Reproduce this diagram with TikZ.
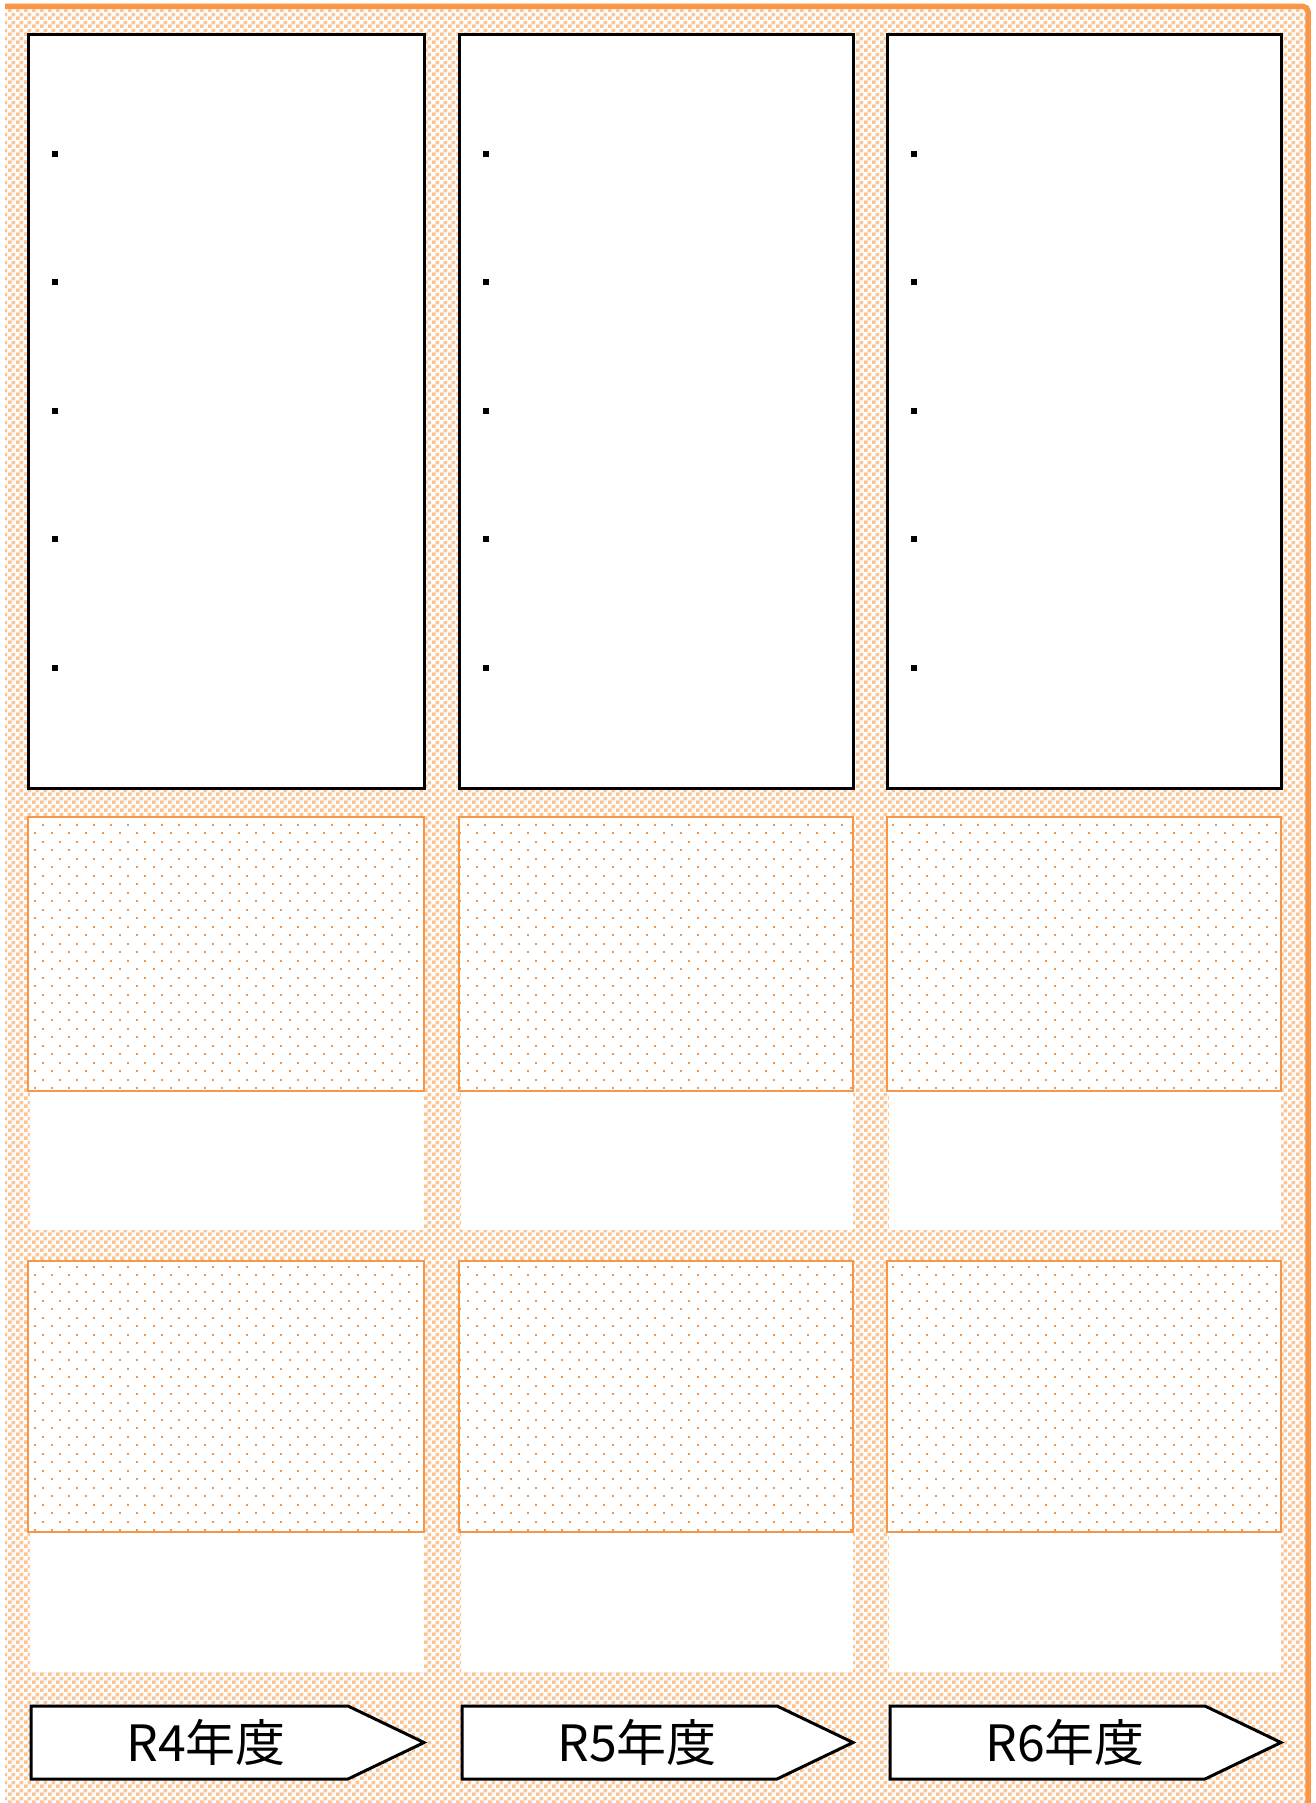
\documentclass[tikz,border=0pt]{standalone}
\usepackage{fontspec}
\setmainfont{Noto Sans CJK JP}
\usetikzlibrary{patterns.meta}

\definecolor{accorange}{RGB}{247,150,70}
\definecolor{chkorange}{RGB}{251,196,146}

\tikzdeclarepattern{
  name=chk, type=uncolored,
  bounding box={(0pt,0pt) and (3.2pt,3.2pt)},
  tile size={(3.2pt,3.2pt)},
  code={\fill (0pt,0pt) rectangle (1.6pt,1.6pt); \fill (1.6pt,1.6pt) rectangle (3.2pt,3.2pt);}
}
\tikzdeclarepattern{
  name=dotgrid, type=uncolored,
  bounding box={(0pt,0pt) and (6.8pt,6.8pt)},
  tile size={(6.8pt,6.8pt)},
  code={\fill (0pt,0pt) rectangle (0.8pt,0.8pt); \fill (3.4pt,3.4pt) rectangle (4.2pt,4.2pt);}
}

\begin{document}
\begin{tikzpicture}[
  x=0.4pt,y=-0.4pt,
  planbox/.style={draw=black,line width=1.2pt,fill=white},
  dotbox/.style={draw=accorange,line width=0.9pt,pattern=dotgrid,pattern color=accorange},
  blankbox/.style={fill=white},
  yeararrow/.style={draw=black,line width=1.2pt,fill=white,line join=miter},
  yearlabel/.style={font=\fontsize{20}{24}\selectfont,inner sep=0pt}
]
  \useasboundingbox (0,0) rectangle (1315,1803);

  % background
  \fill[white] (5,9) rectangle (1308,1803);
  \fill[pattern=chk,pattern color=chkorange] (5,9) rectangle (1308,1803);
  \draw[accorange,line width=2.2pt,rounded corners=2pt] (5,6.5) -- (1308,6.5) -- (1308,1803);

  % one column per year
  \foreach \l/\r/\yr in {28/424/4, 459/853/5, 887/1281/6}{
    \draw[planbox] (\l,35) rectangle (\r,788);
    \foreach \k in {0,...,4}
      \fill (\l+24,151+128.5*\k) rectangle ++(6,6);

    \fill[blankbox] (\l+2,817) rectangle (\r,1230);
    \fill[blankbox] (\l+2,1261) rectangle (\r,1672);
    \fill[white] (\l,817) rectangle (\r,1091);
    \draw[dotbox] (\l,817) rectangle (\r,1091);
    \fill[white] (\l,1261) rectangle (\r,1532);
    \draw[dotbox] (\l,1261) rectangle (\r,1532);

    \draw[yeararrow] (\l+3,1706) -- (\r-76,1706) -- (\r,1742.5) -- (\r-76,1779) -- (\l+3,1779) -- cycle;
    \node[yearlabel] (year\yr) at (\l+178,1742) {R\yr 年度};
  }
\end{tikzpicture}
\end{document}
